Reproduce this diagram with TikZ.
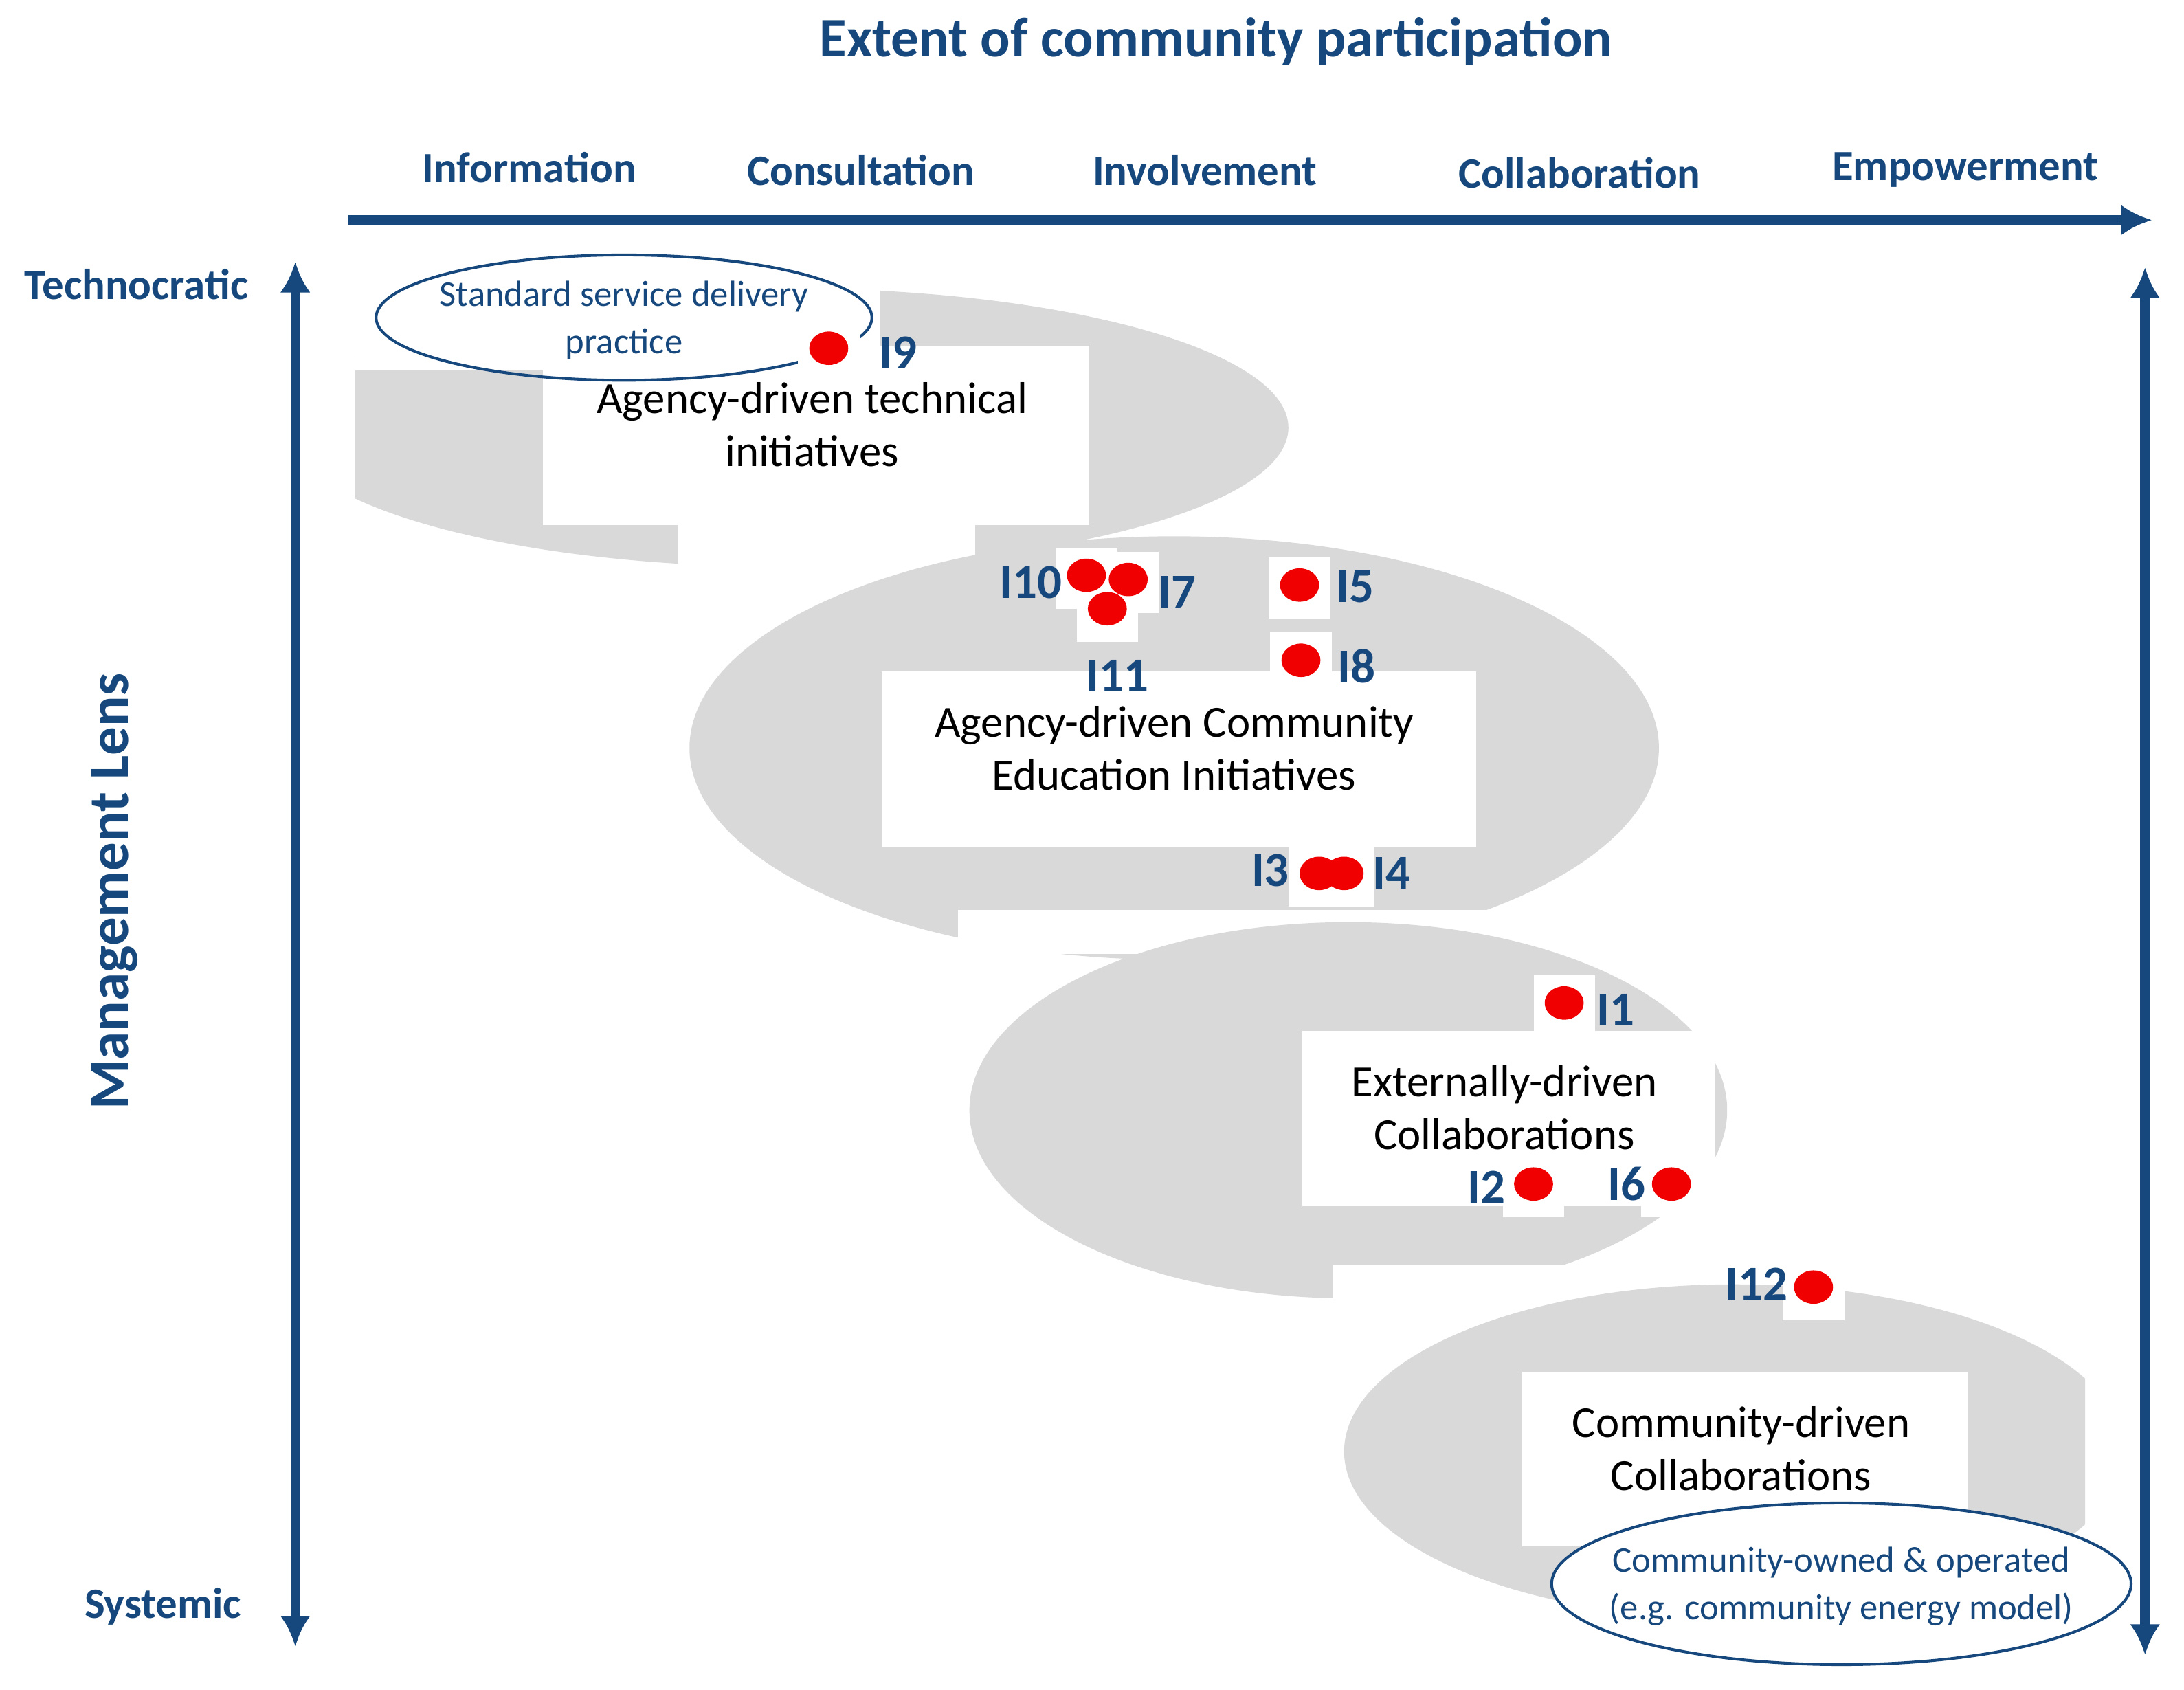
\documentclass[tikz,border=0pt]{standalone}
\usepackage{fontspec}
\setmainfont{Carlito}
\usetikzlibrary{arrows.meta,shapes.geometric}
\definecolor{dblue}{RGB}{22,72,125}
\definecolor{lgray}{RGB}{217,217,217}
\definecolor{dred}{RGB}{240,0,0}
\tikzset{
  ax/.style={line width=7pt,draw=dblue,-{Latex[length=22pt,width=22pt]}},
  axd/.style={line width=7pt,draw=dblue,{Latex[length=22pt,width=22pt]}-{Latex[length=22pt,width=22pt]}},
  hd/.style={text=dblue,font=\bfseries\fontsize{31}{31}\selectfont},
  cat/.style={font=\fontsize{32}{32}\selectfont,align=center,text=black},
  blob/.style={fill=lgray,draw=none},
  wb/.style={fill=white,draw=none},
  dot/.style={fill=dred,draw=none,ellipse,minimum width=28pt,minimum height=24pt,inner sep=0pt},
  lab/.style={text=dblue,font=\bfseries\fontsize{35}{35}\selectfont,inner sep=0pt},
  ovl/.style={draw=dblue,line width=2pt},
  ovt/.style={font=\fontsize{26}{26}\selectfont,text=dblue,align=center,inner sep=0pt}
}
\begin{document}
\begin{tikzpicture}[x=1pt,y=-1pt]
\useasboundingbox[fill=white] (0,0) rectangle (1568,1213);
% blobs
\begin{scope}
\clip (255,0) rectangle (1568,1213);
\fill[blob] (565,307) ellipse (360 and 100);
\end{scope}
\fill[wb] (255,168) rectangle (632,266);
\fill[wb] (390,248) rectangle (782,377);
\fill[wb] (487,377) rectangle (700,412);
\fill[blob] (843,537) ellipse (348 and 152);
\fill[wb] (633,482) rectangle (1060,608);
\fill[wb] (688,653) rectangle (1100,685);
\fill[blob] (968,797) ellipse (272 and 135);
\fill[wb] (935,740) rectangle (1231,866);
\fill[wb] (957,908) rectangle (1300,935);
\begin{scope}
\clip (0,0) rectangle (1497,1213);
\fill[blob] (1245,1042) ellipse (280 and 120);
\end{scope}
\fill[wb] (1093,985) rectangle (1413,1110);
% category texts
\node[cat] (c1) at (583,305) {Agency-driven technical\\[6pt]initiatives};
\node[cat] (c2) at (843,537) {Agency-driven Community\\[6pt]Education Initiatives};
\node[cat] (c3) at (1080,795) {Externally-driven\\[6pt]Collaborations};
\node[cat] (c4) at (1250,1040) {Community-driven\\[6pt]Collaborations};
% ovals
\draw[ovl] (448,228) ellipse (178 and 45);
\node[ovt] (o1) at (448,230) {Standard service delivery\\[8pt]practice};
\draw[ovl,fill=white] (1322,1137) ellipse (208 and 58);
\node[ovt] (o2) at (1322,1139) {Community-owned \& operated\\[8pt](e.g. community energy model)};
% axes
\coordinate (a1) at (250,158); \coordinate (a2) at (1545,158);
\draw[ax] (a1) -- (a2);
\coordinate (l1) at (212,188); \coordinate (l2) at (212,1182);
\draw[axd] (l1) -- (l2);
\coordinate (r1) at (1540,192); \coordinate (r2) at (1540,1188);
\draw[axd] (r1) -- (r2);
% headings
\node[text=dblue,font=\bfseries\fontsize{40}{40}\selectfont] (t) at (873,30) {Extent of community participation};
\node[hd] (h1) at (380,120) {Information};
\node[hd] (h2) at (618,122) {Consultation};
\node[hd] (h3) at (865,122) {Involvement};
\node[hd] (h4) at (1134,124) {Collaboration};
\node[hd] (h5) at (1411,122) {Empowerment};
\node[hd] (tc) at (98,204) {Technocratic};
\node[hd] (sy) at (117,1153) {Systemic};
\node[text=dblue,font=\bfseries\fontsize{41}{41}\selectfont,rotate=90] (ml) at (82,640) {Management Lens};
% dots
\foreach \n/\x/\y in {9/595/250,10/780/413,7/810/416,11/795/437,5/933/420,8/934/474,3/947/627,4/965/627,1/1123/720,2/1101/850,6/1200/850,12/1302/924}{
  \fill[wb] (\x-22,\y-20) rectangle (\x+22,\y+24);
}
\foreach \n/\x/\y in {9/595/250,10/780/413,7/810/416,11/795/437,5/933/420,8/934/474,4/965/627,3/947/627,1/1123/720,2/1101/850,6/1200/850,12/1302/924}{
  \node[dot] (d\n) at (\x,\y) {};
}
\node[lab] (i9) at (645,253) {I9};
\node[lab] (i10) at (740,418) {I10};
\node[lab] (i7) at (845,425) {I7};
\node[lab] (i11) at (802,485) {I11};
\node[lab] (i5) at (973,421) {I5};
\node[lab] (i8) at (974,478) {I8};
\node[lab] (i3) at (912,625) {I3};
\node[lab] (i4) at (999,627) {I4};
\node[lab] (i1) at (1160,725) {I1};
\node[lab] (i2) at (1067,852) {I2};
\node[lab] (i6) at (1168,850) {I6};
\node[lab] (i12) at (1261,922) {I12};
\end{tikzpicture}
\end{document}
